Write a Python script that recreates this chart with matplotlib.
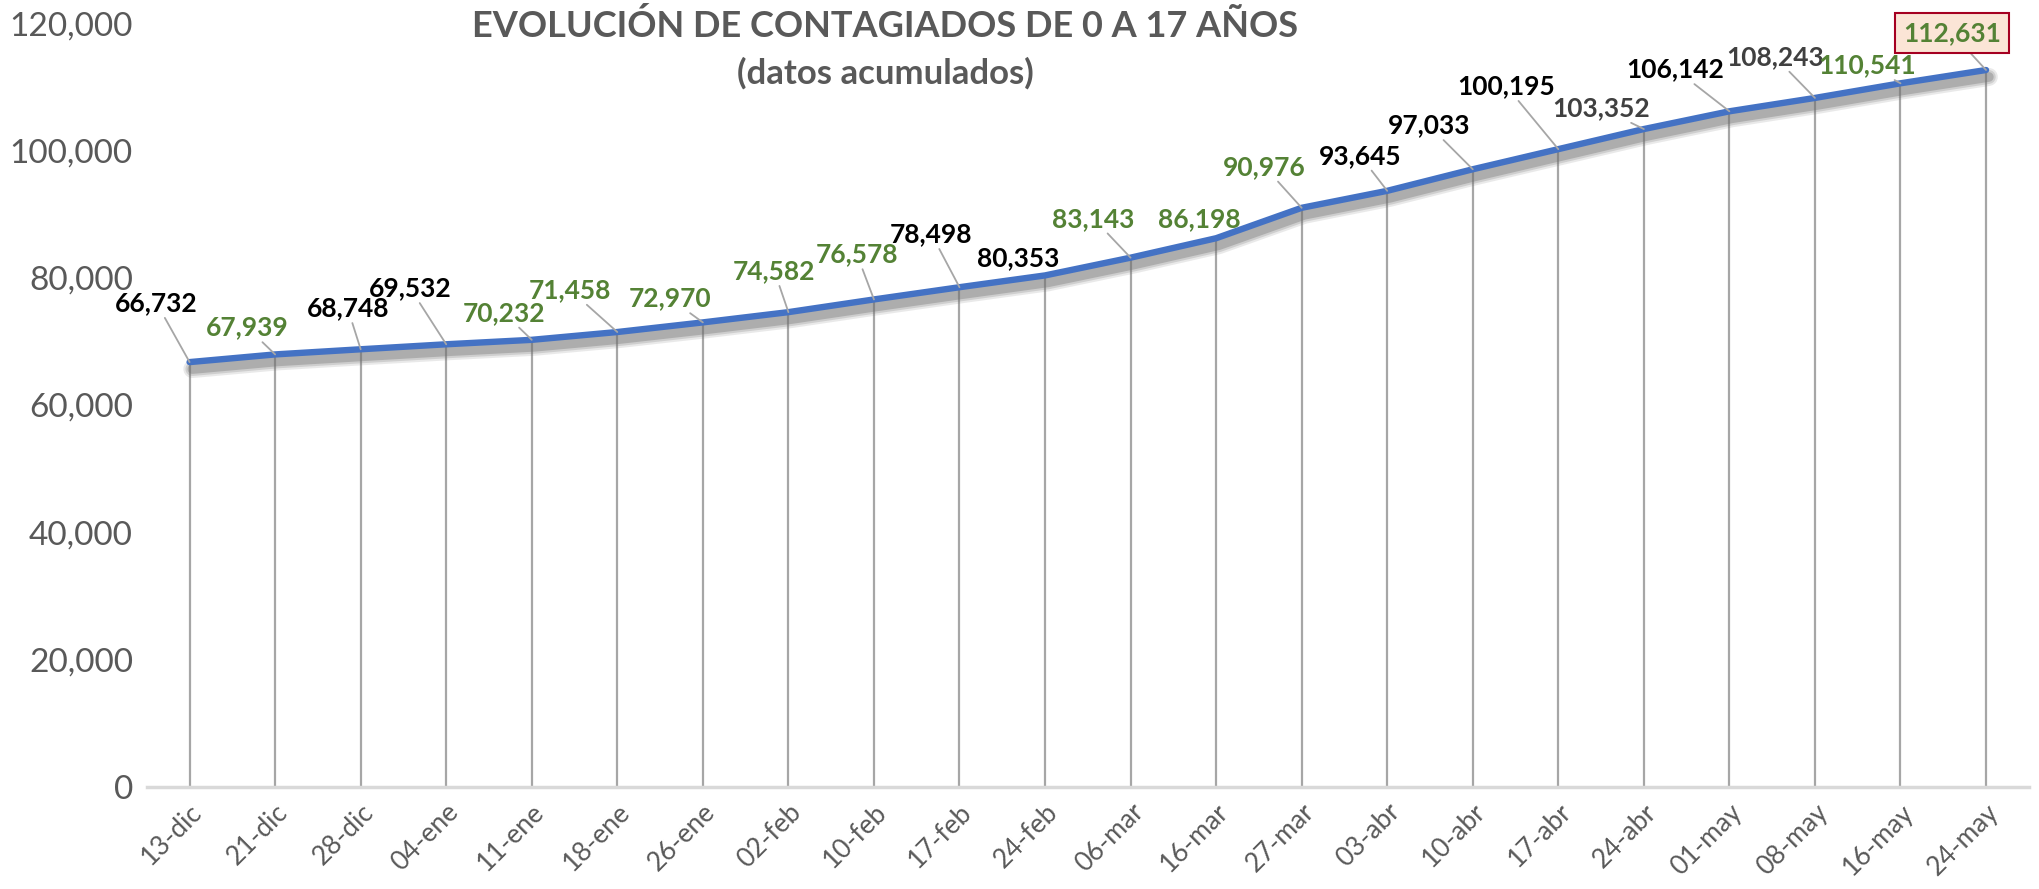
import numpy as np
import matplotlib
matplotlib.use('Agg')
import matplotlib.pyplot as plt
import matplotlib.patheffects as pe

plt.rcParams['font.family'] = ['Lato', 'DejaVu Sans']

# datos
fechas = ['13-dic', '21-dic', '28-dic', '04-ene', '11-ene', '18-ene', '26-ene',
          '02-feb', '10-feb', '17-feb', '24-feb', '06-mar', '16-mar', '27-mar',
          '03-abr', '10-abr', '17-abr', '24-abr', '01-may', '08-may', '16-may',
          '24-may']
contagiados = [66732, 67939, 68748, 69532, 70232, 71458, 72970, 74582, 76578,
               78498, 80353, 83143, 86198, 90976, 93645, 97033, 100195, 103352,
               106142, 108243, 110541, 112631]

# colores de etiquetas (k negro, g verde, d gris oscuro)
col_etq = ['k', 'g', 'k', 'k', 'g', 'g', 'g', 'g', 'g', 'k', 'k', 'g', 'g', 'g',
           'k', 'k', 'k', 'd', 'k', 'd', 'g', 'g']
colores = {'k': '#000000', 'g': '#548235', 'd': '#404040'}

# desplazamiento de etiquetas en pixeles (dx, dy)
desp = [(-33, 59), (-28, 27), (-13, 41), (-36, 56), (-28, 27), (-47, 42),
        (-33, 24), (-14, 41), (-17, 45), (-28, 53), (-27, 17), (-37, 39),
        (-17, 19), (-37, 41), (-27, 35), (-44, 44), (-52, 63), (-43, 21),
        (-54, 42), (-40, 41), (-33, 18), (-34, 37)]

x = np.arange(len(fechas))

fig = plt.figure(figsize=(20.39, 8.89), dpi=100)
ax = fig.add_axes([0.072, 0.115, 0.923, 0.859])

# lineas de caida
ax.vlines(x, 0, contagiados, color='#a6a6a6', lw=1.6, zorder=1)

# sombra difusa: varias capas
sombra = [pe.SimpleLineShadow(offset=(2, -5), shadow_color='#707070', alpha=a, linewidth=w)
          for w, a in [(13, 0.15), (10, 0.22), (7, 0.35)]]
ax.plot(x, contagiados, color='#4472c4', lw=4.6, solid_capstyle='round', zorder=3,
        path_effects=sombra + [pe.Normal()])

for i, v in enumerate(contagiados):
    dx, dy = desp[i]
    lejos = np.hypot(dx, dy) > 35
    kw = dict(xy=(i, v), xytext=(dx, dy), textcoords='offset pixels',
              ha='center', va='center', fontsize=19, fontweight='bold',
              color=colores[col_etq[i]], zorder=5)
    if i == len(contagiados) - 1:
        kw['bbox'] = dict(boxstyle='square,pad=0.3', fc='#fbe5d6', ec='#a50021', lw=1.5)
    if lejos:
        kw['arrowprops'] = dict(arrowstyle='-', color='#a6a6a6', lw=1.3, shrinkA=0, shrinkB=0)
    ax.annotate('{:,}'.format(v), **kw)

ax.set_xlim(-0.5, len(fechas) - 0.5)
ax.set_ylim(0, 120000)
ax.set_yticks(np.arange(0, 120001, 20000))
ax.set_yticklabels(['{:,}'.format(t) for t in range(0, 120001, 20000)])
ax.set_xticks(x)
ax.set_xticklabels(fechas, rotation=45, ha='right', rotation_mode='anchor')

ax.tick_params(axis='y', length=0, labelsize=24, labelcolor='#595959', pad=10)
ax.tick_params(axis='x', length=0, labelsize=19, labelcolor='#595959', pad=9)
for s in ['top', 'right', 'left']:
    ax.spines[s].set_visible(False)
ax.spines['bottom'].set_color('#d9d9d9')
ax.spines['bottom'].set_linewidth(2.5)

fig.text(0.434, 0.971, 'EVOLUCIÓN DE CONTAGIADOS DE 0 A 17 AÑOS', ha='center', va='center',
         fontsize=26, fontweight='bold', color='#595959')
fig.text(0.434, 0.918, '(datos acumulados)', ha='center', va='center',
         fontsize=25, fontweight='bold', color='#595959')

fig.savefig('out.png', dpi=100)
